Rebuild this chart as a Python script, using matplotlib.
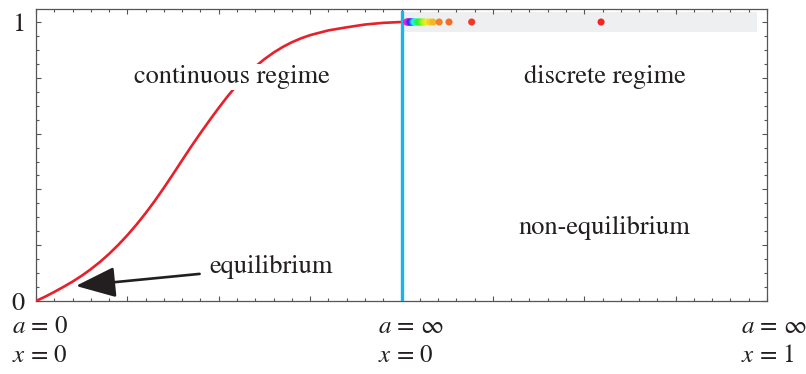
import numpy as np
import matplotlib
matplotlib.use("Agg")
import matplotlib.pyplot as plt
from matplotlib.colors import hsv_to_rgb
from matplotlib.ticker import MultipleLocator

plt.rcParams['font.family'] = ['STIXGeneral', 'DejaVu Serif']
plt.rcParams['mathtext.fontset'] = 'stix'

# continuous regime: read-off points of the red curve (x in [0,1])
curve_x = [0.0, 0.025, 0.05, 0.075, 0.1, 0.125, 0.15, 0.175, 0.2, 0.225,
           0.25, 0.275, 0.3, 0.325, 0.35, 0.375, 0.4, 0.425, 0.45, 0.475,
           0.5, 0.525, 0.55, 0.575, 0.6, 0.625, 0.65, 0.675, 0.7, 0.725,
           0.75, 0.8, 0.85, 0.9, 0.95, 1.0]
curve_y = [0.0, 0.0155, 0.0325, 0.0505, 0.0695, 0.0905, 0.114, 0.14, 0.169, 0.201,
           0.236, 0.274, 0.315, 0.359, 0.406, 0.455, 0.505, 0.5545, 0.602, 0.648,
           0.6925, 0.735, 0.774, 0.809, 0.84, 0.867, 0.8905, 0.9105, 0.9275, 0.9415,
           0.953, 0.97, 0.981, 0.991, 0.997, 1.0]

# discrete regime: points sitting at y = 1
dots_x = [1.546, 1.192, 1.130, 1.103, 1.086, 1.078, 1.071, 1.064, 1.058,
          1.053, 1.048, 1.044, 1.040, 1.036, 1.033, 1.030, 1.027, 1.024,
          1.022, 1.020, 1.018, 1.016, 1.014]
dots_hue = [0.0, 0.015, 0.06, 0.075, 0.12, 0.14, 0.16, 0.2, 0.25, 0.3,
            0.35, 0.4, 0.45, 0.5, 0.55, 0.6, 0.65, 0.7, 0.74, 0.78,
            0.82, 0.86, 0.9]

x_labels = ["$a$ = 0\n$x$ = 0", "$a$ = \u221e\n$x$ = 0", "$a$ = \u221e\n$x$ = 1"]
x_label_pos = [0, 1, 2]
x_label_dx = [-17.5, -17.0, -18.8]

txt = '#231f20'
fs = 19

fig = plt.figure(figsize=(8.06, 3.74), dpi=100)
ax = fig.add_axes([0.0447, 0.1952, 0.9069, 0.7807])
ax.set_xlim(0, 2)
ax.set_ylim(0, 1.0466)

# grey strip behind the discrete points
ax.fill_between([1.0, 1.973], 0.965, 1.035, color='#eeeff1', lw=0, zorder=1)

ax.plot(curve_x, curve_y, color='#e8202a', lw=1.9, zorder=3,
        solid_capstyle='round', solid_joinstyle='round')
ax.plot([1, 1], [0, 1.035], color='#14b6ec', lw=2.4, zorder=4)

cols = [hsv_to_rgb((h, 0.85, 0.95)) for h in dots_hue]
ax.scatter(dots_x[::-1], [1.0] * len(dots_x), c=cols[::-1], s=26, lw=0, zorder=5)

box = dict(facecolor='white', edgecolor='none', pad=1)
ax.text(0.536, 0.803, "continuous regime", ha='center', va='center', fontsize=fs,
        color=txt, bbox=box, zorder=6)
ax.text(1.557, 0.803, "discrete regime", ha='center', va='center', fontsize=fs,
        color=txt, zorder=6)
ax.text(1.555, 0.262, "non-equilibrium", ha='center', va='center', fontsize=fs,
        color=txt, zorder=6)
ax.annotate("equilibrium", xy=(0.109, 0.054), xytext=(0.474, 0.122),
            ha='left', va='center', fontsize=fs, color=txt, zorder=6,
            arrowprops=dict(arrowstyle='-|>,head_length=1.3,head_width=0.5',
                            color='#231f20', lw=1.9, shrinkA=5, shrinkB=0))

# ticks: inward on all four sides
ax.xaxis.set_major_locator(MultipleLocator(0.25))
ax.xaxis.set_minor_locator(MultipleLocator(0.05))
ax.yaxis.set_major_locator(MultipleLocator(0.2))
ax.yaxis.set_minor_locator(MultipleLocator(0.05))
ax.tick_params(which='both', direction='in', top=True, right=True,
               color='#555555', width=0.8)
ax.tick_params(which='major', length=3.5)
ax.tick_params(which='minor', length=2)
ax.set_xticklabels([])
ax.set_yticks([0, 0.2, 0.4, 0.6, 0.8, 1.0], ['0', '', '', '', '', '1'])
ax.tick_params(axis='y', labelsize=fs, pad=8, labelcolor=txt)
for s in ax.spines.values():
    s.set_color('#555555')
    s.set_linewidth(0.9)

for xp, dx, lab in zip(x_label_pos, x_label_dx, x_labels):
    ax.annotate(lab, xy=(xp, 0), xycoords=('data', 'axes fraction'),
                xytext=(dx, -10), textcoords='offset points',
                ha='left', va='top', fontsize=18, color=txt, linespacing=1.3)

fig.savefig("out.png", dpi=100)
